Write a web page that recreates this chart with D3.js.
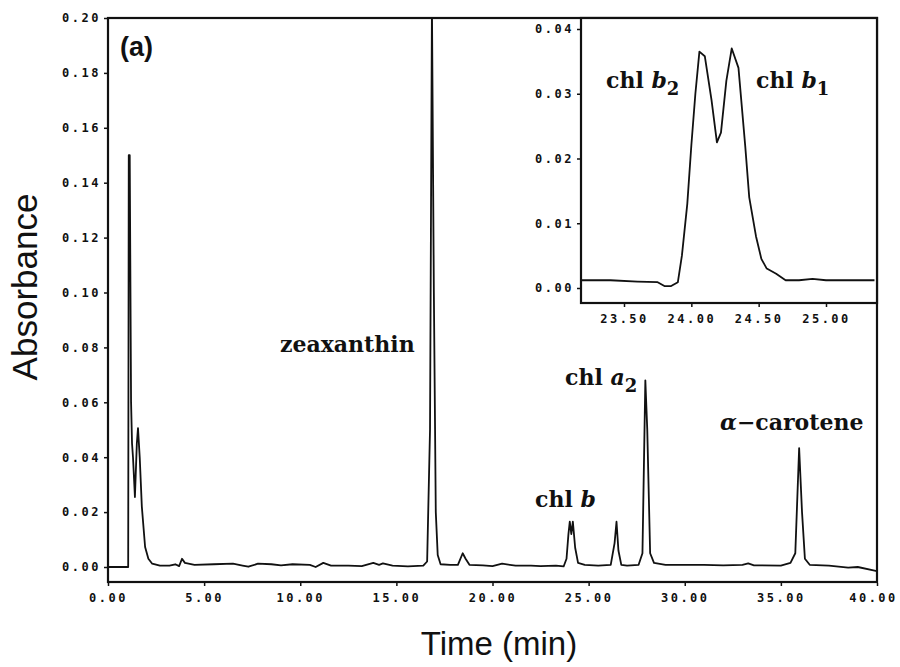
<!DOCTYPE html>
<html>
<head>
<meta charset="utf-8">
<script src="https://cdn.jsdelivr.net/npm/d3@7"></script>
<style>
  body { margin: 0; background: #fff; }
  .tick text { font-family: "DejaVu Sans Mono", monospace; font-weight: bold; font-size: 12px; letter-spacing: 2.5px; fill: #111; }
  .tick line { stroke: #111; stroke-width: 1.5; }
  .domain { display: none; }
  .peak-label { font-family: "DejaVu Serif", serif; font-weight: bold; font-size: 22px; fill: #111; }
  .axis-title { font-family: "Liberation Sans", Arial, sans-serif; fill: #111; }
</style>
</head>
<body>
<div id="chart"></div>
<script>
// main chromatogram (time in min, absorbance)
const mainTime = [0.0, 1.05, 1.08, 1.13, 1.2, 1.25, 1.3, 1.4, 1.5, 1.56, 1.65, 1.76, 1.93, 2.1, 2.3, 2.7, 3.2, 3.5, 3.7, 3.85, 4.0, 4.5,
  5.5, 6.5, 7.0, 7.3, 7.8, 8.5, 9.0, 9.6, 10.5, 10.8, 11.2, 11.6, 12.5, 13.2, 13.8, 14.1, 14.3, 14.8, 15.6, 16.4, 16.6,
  16.75, 16.85, 16.95, 17.05, 17.15, 17.3, 17.8, 18.2, 18.45, 18.6, 18.8, 19.5, 20.0, 20.5, 21.2, 22.0, 22.5, 23.3, 23.7,
  23.85, 23.95, 24.02, 24.1, 24.18, 24.3, 24.45, 24.8, 25.5, 26.15, 26.35, 26.45, 26.55, 26.7, 27.0, 27.6, 27.8, 27.95,
  28.05, 28.2, 28.4, 29.0, 31.0, 32.0, 33.0, 33.3, 33.6, 35.0, 35.5, 35.75, 35.95, 36.1, 36.25, 36.5, 37.5, 38.5, 39.0, 40.0];
const mainAbs = [0.0, 0.0, 0.15, 0.15, 0.06, 0.045, 0.04, 0.0255, 0.045, 0.0506, 0.04, 0.022, 0.0073, 0.003, 0.0012, 0.0005,
  0.0005, 0.001, 0.0003, 0.003, 0.0015, 0.0008, 0.001, 0.0012, 0.0005, 0.0001, 0.0012, 0.001, 0.0006, 0.001, 0.0008, 0.0,
  0.0015, 0.0005, 0.0005, 0.0003, 0.0015, 0.0008, 0.0013, 0.0005, 0.0002, 0.0005, 0.002, 0.05, 0.205, 0.1, 0.02, 0.0044,
  0.001, 0.0008, 0.0008, 0.005, 0.003, 0.0008, 0.0006, 0.0003, 0.0012, 0.0005, 0.0005, 0.0003, 0.0005, 0.0002, 0.003,
  0.012, 0.0165, 0.012, 0.0165, 0.007, 0.0015, 0.0008, 0.0005, 0.0008, 0.0087, 0.0165, 0.006, 0.0008, 0.0005, 0.0008,
  0.005, 0.068, 0.05, 0.005, 0.0015, 0.0008, 0.0008, 0.0006, 0.0008, 0.0013, 0.0006, 0.0005, 0.0015, 0.005, 0.0433, 0.02,
  0.003, 0.0008, 0.0005, -0.0002, 0.0, -0.0015];

// inset: chl b region
const insetTime = [23.18, 23.4, 23.6, 23.75, 23.8, 23.85, 23.9, 23.93, 23.97, 24.0, 24.03, 24.06, 24.1, 24.15, 24.19, 24.22,
  24.26, 24.3, 24.35, 24.4, 24.43, 24.48, 24.52, 24.56, 24.63, 24.7, 24.8, 24.9, 25.0, 25.36];
const insetAbs = [0.0012, 0.0012, 0.001, 0.0009, 0.0003, 0.0003, 0.0009, 0.005, 0.013, 0.022, 0.03, 0.0365, 0.0358, 0.029,
  0.0225, 0.024, 0.032, 0.037, 0.034, 0.022, 0.014, 0.008, 0.0045, 0.003, 0.0022, 0.0012, 0.0012, 0.0014, 0.0012, 0.0012];

const mainXTicks = [0, 5, 10, 15, 20, 25, 30, 35, 40];
const mainYTicks = [0, 0.02, 0.04, 0.06, 0.08, 0.10, 0.12, 0.14, 0.16, 0.18, 0.20];
const insetXTicks = [23.5, 24.0, 24.5, 25.0];
const insetYTicks = [0, 0.01, 0.02, 0.03, 0.04];

const width = 900, height = 667;
const svg = d3.select("#chart").append("svg").attr("width", width).attr("height", height);

// main panel
const frame = { left: 108, right: 877, top: 18, bottom: 582 };
const x = d3.scaleLinear().domain([0, 40]).range([frame.left, frame.right]);
const y = d3.scaleLinear().domain([0, 0.20]).range([567, frame.top]);

// inset panel
const inset = { left: 581, right: 877, top: 18, bottom: 303 };
const xi = d3.scaleLinear().domain([23.5, 25.0]).range([624, 826]);
const yi = d3.scaleLinear().domain([0, 0.04]).range([288, 29]);

const clip = (id, f) => svg.append("clipPath").attr("id", id)
  .append("rect").attr("x", f.left).attr("y", f.top).attr("width", f.right - f.left).attr("height", f.bottom - f.top);
clip("clip-main", frame);
clip("clip-inset", inset);

const mainData = mainTime.map((t, i) => ({ t, a: mainAbs[i] }));
const insetData = insetTime.map((t, i) => ({ t, a: insetAbs[i] }));

svg.append("path")
  .datum(mainData)
  .attr("clip-path", "url(#clip-main)")
  .attr("fill", "none")
  .attr("stroke", "#111")
  .attr("stroke-width", 1.8)
  .attr("stroke-linejoin", "round")
  .attr("d", d3.line().x(d => x(d.t)).y(d => y(d.a)));

const box = (f, w) => svg.append("rect")
  .attr("x", f.left).attr("y", f.top)
  .attr("width", f.right - f.left).attr("height", f.bottom - f.top)
  .attr("fill", "none").attr("stroke", "#111").attr("stroke-width", w);
box(frame, 2.2);

// axes, labels sit left / below with tiny tick marks
svg.append("g")
  .attr("transform", `translate(${frame.left - 1},0)`)
  .call(d3.axisLeft(y).tickValues(mainYTicks).tickFormat(d3.format(".2f")).tickSize(3).tickPadding(3));
const xAxisG = svg.append("g")
  .attr("transform", `translate(0,${frame.bottom + 1})`)
  .call(d3.axisBottom(x).tickValues(mainXTicks).tickFormat(d3.format(".2f")).tickSize(3).tickPadding(7));
// last label runs against the page edge, pull it in a bit
xAxisG.selectAll(".tick text").filter(d => d === 40).attr("dx", -4);

// inset
svg.append("rect")
  .attr("x", inset.left).attr("y", inset.top)
  .attr("width", inset.right - inset.left).attr("height", inset.bottom - inset.top)
  .attr("fill", "#fff");
svg.append("path")
  .datum(insetData)
  .attr("clip-path", "url(#clip-inset)")
  .attr("fill", "none")
  .attr("stroke", "#111")
  .attr("stroke-width", 1.8)
  .attr("stroke-linejoin", "round")
  .attr("d", d3.line().x(d => xi(d.t)).y(d => yi(d.a)));
box(inset, 2.2);

svg.append("g")
  .attr("transform", `translate(${inset.left - 1},0)`)
  .call(d3.axisLeft(yi).tickValues(insetYTicks).tickFormat(d3.format(".2f")).tickSize(3).tickPadding(3));
svg.append("g")
  .attr("transform", `translate(0,${inset.bottom + 1})`)
  .call(d3.axisBottom(xi).tickValues(insetXTicks).tickFormat(d3.format(".2f")).tickSize(3).tickPadding(7));

// axis titles
svg.append("text")
  .attr("class", "axis-title")
  .attr("x", 499).attr("y", 655)
  .attr("text-anchor", "middle")
  .attr("font-size", 33)
  .text("Time (min)");
svg.append("text")
  .attr("class", "axis-title")
  .attr("transform", "translate(37,287) rotate(-90)")
  .attr("text-anchor", "middle")
  .attr("font-size", 35)
  .text("Absorbance");

svg.append("text")
  .attr("x", 120).attr("y", 56)
  .attr("font-family", "Liberation Sans, Arial, sans-serif")
  .attr("font-weight", "bold")
  .attr("font-size", 27)
  .attr("fill", "#111")
  .text("(a)");

// peak labels: plain head, italic part, subscript
const peakLabel = (px, py, head, ital, sub) => {
  const t = svg.append("text").attr("class", "peak-label").attr("x", px).attr("y", py);
  t.append("tspan").text(head);
  if (ital) t.append("tspan").attr("font-style", "italic").text(ital);
  if (sub) t.append("tspan").attr("dy", 7).attr("font-size", 18).text(sub);
  return t;
};
peakLabel(280, 352, "zeaxanthin");
peakLabel(535, 507, "chl ", "b");
peakLabel(565, 385, "chl ", "a", "2");
peakLabel(720, 430, "", "α", "").append("tspan").text("−carotene");
peakLabel(606, 88, "chl ", "b", "2");
peakLabel(756, 88, "chl ", "b", "1");
</script>
</body>
</html>
